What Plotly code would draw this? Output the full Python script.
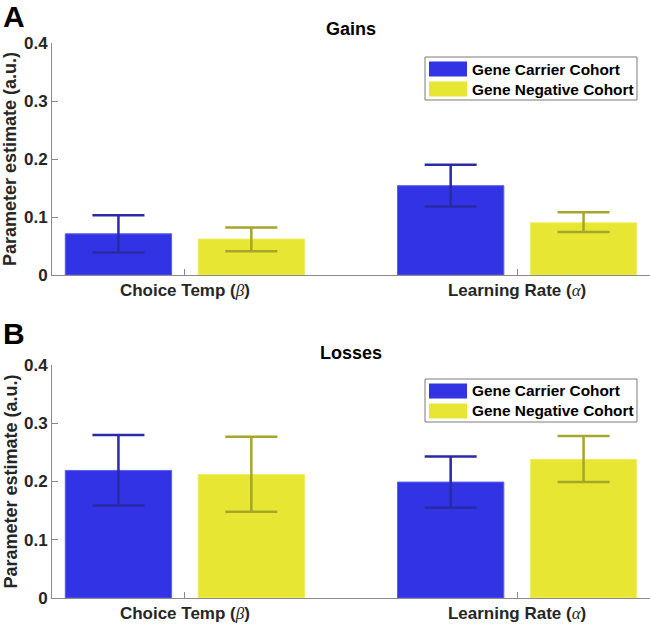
import plotly.graph_objects as go

# ---------------- data ----------------
GREEK = "<span style=\"font-family:'Liberation Serif',serif;font-weight:normal;font-style:italic\">{}</span>"
categories = ["Choice Temp (" + GREEK.format("β") + ")",
              "Learning Rate (" + GREEK.format("α") + ")"]
series_names = ["Gene Carrier Cohort", "Gene Negative Cohort"]

gains_carrier = [0.071, 0.154]
gains_carrier_hi = [0.103, 0.190]
gains_carrier_lo = [0.039, 0.118]
gains_negative = [0.062, 0.090]
gains_negative_hi = [0.082, 0.108]
gains_negative_lo = [0.041, 0.074]

losses_carrier = [0.219, 0.199]
losses_carrier_hi = [0.280, 0.243]
losses_carrier_lo = [0.159, 0.155]
losses_negative = [0.212, 0.238]
losses_negative_hi = [0.277, 0.278]
losses_negative_lo = [0.148, 0.199]

y_ticks = [0, 0.1, 0.2, 0.3, 0.4]
y_tick_text = ["0", "0.1", "0.2", "0.3", "0.4"]

# ---------------- style ----------------
W, H = 650, 626
BLUE = "#3333e6"
BLUE_EDGE = "#5c5cf0"
BLUE_ERR = "#2a2aa6"
YELLOW = "#e6e633"
YELLOW_EDGE = "#eeee66"
YELLOW_ERR = "#a6a62a"
AXIS = "#8a8a8a"
TXT = "#262626"
FONT = "Liberation Sans, Arial, sans-serif"

PL, PR = 52, 650
PANELS = [  # (top px, bottom px)
    (43, 275),
    (365, 598),
]


def ydom(top, bot):
    return [(H - bot) / H, (H - top) / H]


fig = go.Figure()


def add_panel(idx, vals_c, hi_c, lo_c, vals_n, hi_n, lo_n):
    xa = "x" if idx == 1 else f"x{idx}"
    ya = "y" if idx == 1 else f"y{idx}"
    for vals, hi, lo, col, edge, ecol, name in [
        (vals_c, hi_c, lo_c, BLUE, BLUE_EDGE, BLUE_ERR, series_names[0]),
        (vals_n, hi_n, lo_n, YELLOW, YELLOW_EDGE, YELLOW_ERR, series_names[1]),
    ]:
        fig.add_trace(go.Bar(
            x=categories, y=vals, name=name, xaxis=xa, yaxis=ya,
            marker=dict(color=col, line=dict(color=edge, width=1)),
            error_y=dict(type="data", symmetric=False,
                         array=[h - v for h, v in zip(hi, vals)],
                         arrayminus=[v - l for v, l in zip(vals, lo)],
                         color=ecol, thickness=2.5, width=26),
            showlegend=False,
        ))


add_panel(1, gains_carrier, gains_carrier_hi, gains_carrier_lo,
          gains_negative, gains_negative_hi, gains_negative_lo)
add_panel(2, losses_carrier, losses_carrier_hi, losses_carrier_lo,
          losses_negative, losses_negative_hi, losses_negative_lo)

axis_common_x = dict(
    range=[-0.4, 1.4], showline=True, linecolor=AXIS, linewidth=1,
    ticks="inside", ticklen=6, tickcolor=AXIS, mirror=False,
    tickfont=dict(size=17, color=TXT, family=FONT, weight="bold"),
    showgrid=False, zeroline=False, fixedrange=True,
)
axis_common_y = dict(
    range=[0, 0.4], showline=True, linecolor=AXIS, linewidth=1,
    ticks="inside", ticklen=6, tickcolor=AXIS,
    tickvals=y_ticks, ticktext=y_tick_text,
    tickfont=dict(size=17, color=TXT, family=FONT, weight="bold"),
    showgrid=False, zeroline=False,
)

layout = dict(
    width=W, height=H,
    margin=dict(l=PL, r=W - PR, t=0, b=0, autoexpand=False),
    paper_bgcolor="white", plot_bgcolor="white",
    barmode="group", bargap=0.2, bargroupgap=0.2,
    font=dict(family=FONT, color=TXT),
    showlegend=False,
)
for i, (top, bot) in enumerate(PANELS, start=1):
    sfx = "" if i == 1 else str(i)
    layout[f"xaxis{sfx}"] = dict(axis_common_x, domain=[0, 1], anchor=f"y{sfx}")
    layout[f"yaxis{sfx}"] = dict(axis_common_y, domain=ydom(top, bot), anchor=f"x{sfx}")
fig.update_layout(**layout)

# ---------------- annotations / legends ----------------
titles = ["Gains", "Losses"]
letters = ["A", "B"]
title_y = [29, 353]
letter_y = [17, 333]


def px_x(p):
    return (p - PL) / (PR - PL)


def px_y(p):
    return (H - p) / H


for i, (top, bot) in enumerate(PANELS):
    fig.add_annotation(text=f"<b>{titles[i]}</b>", xref="paper", yref="paper",
                       x=0.5, y=px_y(title_y[i]), xanchor="center", yanchor="middle",
                       showarrow=False, font=dict(size=18, color="black", family=FONT))
    fig.add_annotation(text=f"<b>{letters[i]}</b>", xref="paper", yref="paper",
                       x=px_x(1), y=px_y(letter_y[i]), xanchor="left", yanchor="middle",
                       showarrow=False, font=dict(size=30, color="black", family=FONT))
    fig.add_annotation(text="<b>Parameter estimate (a.u.)</b>", xref="paper", yref="paper",
                       x=px_x(10), y=px_y((top + bot) / 2), xanchor="center", yanchor="middle",
                       textangle=-90, showarrow=False,
                       font=dict(size=18, color=TXT, family=FONT))

    # legend box
    lt = top + 14
    fig.add_shape(type="rect", xref="paper", yref="paper",
                  x0=px_x(425), x1=px_x(637), y0=px_y(lt), y1=px_y(lt + 43),
                  line=dict(color="#7a7a7a", width=1), fillcolor="white", layer="above")
    for j, (col, name) in enumerate([(BLUE, series_names[0]), (YELLOW, series_names[1])]):
        cy = lt + 12 + j * 20
        fig.add_shape(type="rect", xref="paper", yref="paper",
                      x0=px_x(429), x1=px_x(467), y0=px_y(cy - 7.5), y1=px_y(cy + 7.5),
                      line=dict(width=0), fillcolor=col, layer="above")
        fig.add_annotation(text=f"<b>{name}</b>", xref="paper", yref="paper",
                           x=px_x(470), y=px_y(cy), xanchor="left", yanchor="middle",
                           showarrow=False, font=dict(size=15.4, color="black", family=FONT))

fig.write_html("out.html",
               config={"displayModeBar": False},
               post_script="document.body.style.margin='0px';document.body.style.overflow='hidden';")
